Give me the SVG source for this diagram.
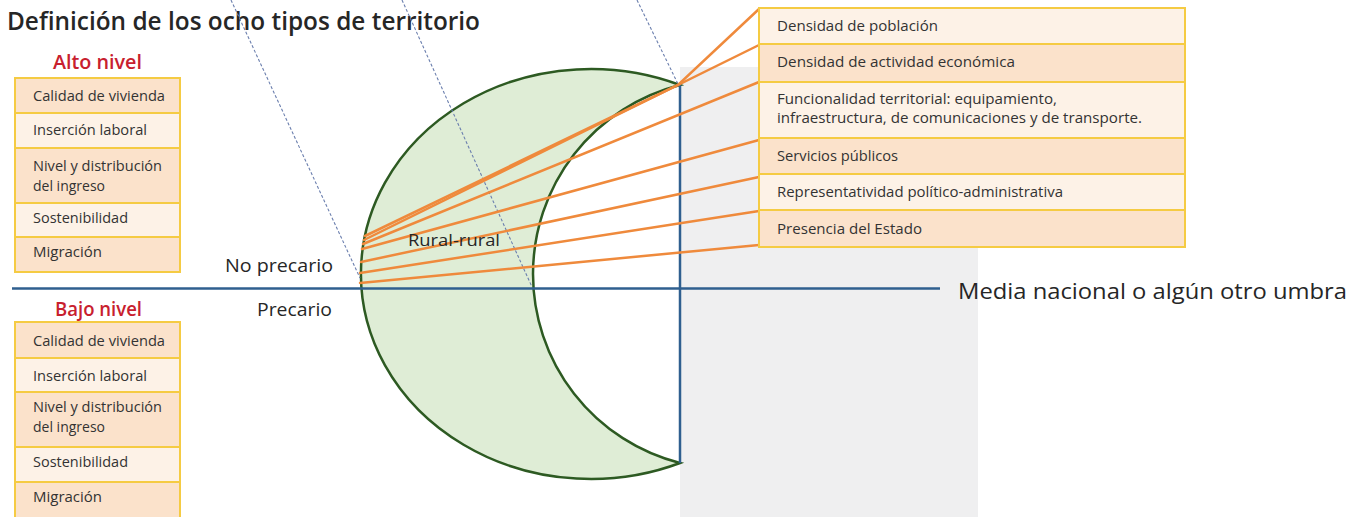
<svg xmlns="http://www.w3.org/2000/svg" width="1350" height="517" viewBox="0 0 1350 517">
<style>
.t{font-family:"Open Sans","Noto Sans","Liberation Sans",sans-serif;fill:#262626}
.bx{font-size:14px;fill:#333}
.lbl{font-size:19px}
.red{font-size:19px;fill:#c8202e;font-weight:600}
.cellD{fill:#fbe2cb;stroke:#f5cb43;stroke-width:2}
.cellL{fill:#fdf2e7;stroke:#f5cb43;stroke-width:2}
.dash{stroke:#6b7fae;stroke-width:1.1;stroke-dasharray:3 2;fill:none}
.or{stroke:#ef8a3c;stroke-width:2.5;fill:none;stroke-linecap:round}
.axis{stroke:#2f5f8f;stroke-width:2.5;fill:none}
</style>
<rect x="0" y="0" width="1350" height="517" fill="#ffffff"/>
<rect x="680" y="67" width="298" height="450" fill="#efeff0"/>

<g id="title"><text class="t" x="7" y="30" font-size="25" font-weight="600" textLength="473" lengthAdjust="spacingAndGlyphs">Definición de los ocho tipos de territorio</text></g>

<g id="crescent">
<path d="M680,85 A230,205 0 1,0 680,463 A195,195 0 0,1 680,85 Z" fill="#dfedd6" stroke="#2d5a22" stroke-width="2.5"/>
</g>

<g id="axes">
<line class="axis" x1="12" y1="288.5" x2="940" y2="288.5"/>
<line class="axis" x1="680" y1="85" x2="680" y2="463"/>
</g>

<g id="connectors">
<line class="dash" x1="231" y1="0" x2="360" y2="278"/>
<line class="dash" x1="402" y1="0" x2="532" y2="287"/>
<line class="dash" x1="637" y1="0" x2="678" y2="84"/>
<polyline class="or" points="365,236 678,85 759,9"/>
<line class="or" x1="364" y1="240" x2="759" y2="45"/>
<line class="or" x1="363" y1="244" x2="759" y2="82"/>
<line class="or" x1="362" y1="249" x2="759" y2="140"/>
<line class="or" x1="361" y1="262" x2="759" y2="177"/>
<line class="or" x1="360" y1="273" x2="759" y2="211"/>
<line class="or" x1="360" y1="283" x2="759" y2="245"/>
</g>

<g id="rural-rural">
<text class="t" x="408" y="246" font-size="15.5" textLength="92" lengthAdjust="spacingAndGlyphs">Rural-rural</text>
</g>

<g id="labels">
<text class="t lbl" x="225" y="272" textLength="108" lengthAdjust="spacingAndGlyphs">No precario</text>
<text class="t lbl" x="257" y="316" textLength="75" lengthAdjust="spacingAndGlyphs">Precario</text>
<text class="t" x="958" y="299" font-size="21" font-weight="500" textLength="389" lengthAdjust="spacingAndGlyphs">Media nacional o algún otro umbra</text>
</g>

<g id="alto-nivel">
<text class="t red" x="53" y="69" textLength="89" lengthAdjust="spacingAndGlyphs">Alto nivel</text>
<rect class="cellD" x="15" y="78" width="165" height="35"/>
<rect class="cellL" x="15" y="113" width="165" height="35"/>
<rect class="cellD" x="15" y="148" width="165" height="55"/>
<rect class="cellL" x="15" y="203" width="165" height="34"/>
<rect class="cellD" x="15" y="237" width="165" height="35"/>
<text class="t bx" x="33" y="101" textLength="132" lengthAdjust="spacingAndGlyphs">Calidad de vivienda</text>
<text class="t bx" x="33" y="135" textLength="114" lengthAdjust="spacingAndGlyphs">Inserción laboral</text>
<text class="t bx" x="33" y="171" textLength="129" lengthAdjust="spacingAndGlyphs">Nivel y distribución</text>
<text class="t bx" x="33" y="191" textLength="72" lengthAdjust="spacingAndGlyphs">del ingreso</text>
<text class="t bx" x="33" y="223" textLength="95" lengthAdjust="spacingAndGlyphs">Sostenibilidad</text>
<text class="t bx" x="33" y="257" textLength="69" lengthAdjust="spacingAndGlyphs">Migración</text>
</g>

<g id="bajo-nivel">
<text class="t red" x="55" y="316" textLength="87" lengthAdjust="spacingAndGlyphs">Bajo nivel</text>
<rect class="cellD" x="15" y="322" width="165" height="36"/>
<rect class="cellL" x="15" y="358" width="165" height="34"/>
<rect class="cellD" x="15" y="392" width="165" height="55"/>
<rect class="cellL" x="15" y="447" width="165" height="35"/>
<rect class="cellD" x="15" y="482" width="165" height="36"/>
<text class="t bx" x="33" y="346" textLength="132" lengthAdjust="spacingAndGlyphs">Calidad de vivienda</text>
<text class="t bx" x="33" y="381" textLength="114" lengthAdjust="spacingAndGlyphs">Inserción laboral</text>
<text class="t bx" x="33" y="412" textLength="129" lengthAdjust="spacingAndGlyphs">Nivel y distribución</text>
<text class="t bx" x="33" y="432" textLength="72" lengthAdjust="spacingAndGlyphs">del ingreso</text>
<text class="t bx" x="33" y="467" textLength="95" lengthAdjust="spacingAndGlyphs">Sostenibilidad</text>
<text class="t bx" x="33" y="502" textLength="69" lengthAdjust="spacingAndGlyphs">Migración</text>
</g>

<g id="factores">
<rect class="cellL" x="759" y="8" width="426" height="36"/>
<rect class="cellD" x="759" y="44" width="426" height="38"/>
<rect class="cellL" x="759" y="82" width="426" height="56"/>
<rect class="cellD" x="759" y="138" width="426" height="36"/>
<rect class="cellL" x="759" y="174" width="426" height="36"/>
<rect class="cellD" x="759" y="210" width="426" height="37"/>
<text class="t bx" x="777" y="31" textLength="161" lengthAdjust="spacingAndGlyphs">Densidad de población</text>
<text class="t bx" x="777" y="67" textLength="238" lengthAdjust="spacingAndGlyphs">Densidad de actividad económica</text>
<text class="t bx" x="777" y="104" textLength="280" lengthAdjust="spacingAndGlyphs">Funcionalidad territorial: equipamiento,</text>
<text class="t bx" x="777" y="123" textLength="365" lengthAdjust="spacingAndGlyphs">infraestructura, de comunicaciones y de transporte.</text>
<text class="t bx" x="777" y="161" textLength="121" lengthAdjust="spacingAndGlyphs">Servicios públicos</text>
<text class="t bx" x="777" y="197" textLength="286" lengthAdjust="spacingAndGlyphs">Representatividad político-administrativa</text>
<text class="t bx" x="777" y="234" textLength="145" lengthAdjust="spacingAndGlyphs">Presencia del Estado</text>
</g>
</svg>
